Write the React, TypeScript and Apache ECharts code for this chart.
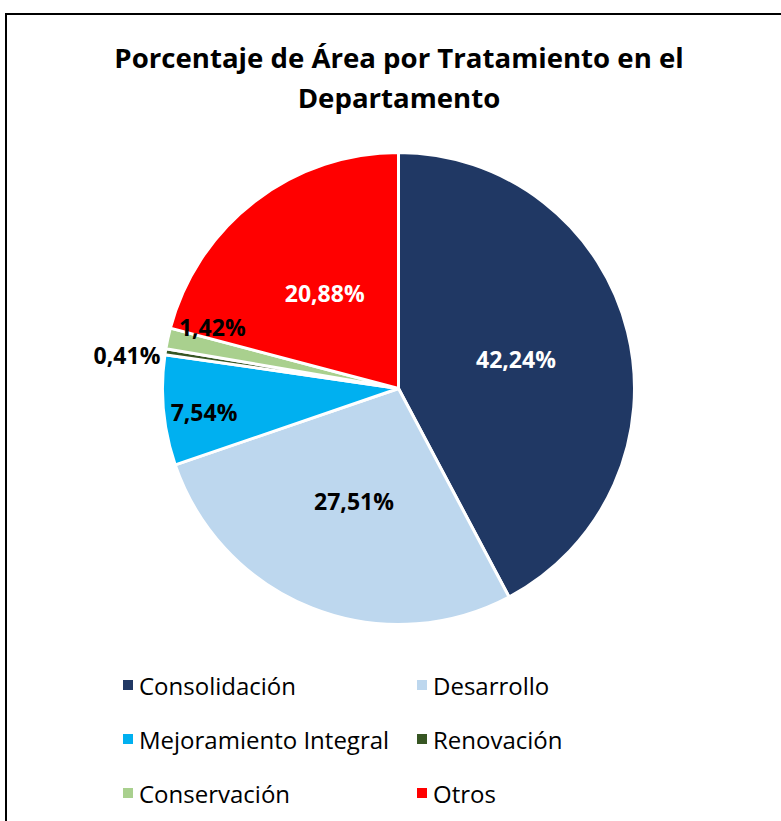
import React, { useEffect, useRef } from "react";
import * as echarts from "echarts";

const categories = [
  "Consolidación",
  "Desarrollo",
  "Mejoramiento Integral",
  "Renovación",
  "Conservación",
  "Otros",
];
const values = [42.24, 27.51, 7.54, 0.41, 1.42, 20.88];
const colors = ["#203864", "#BDD7EE", "#00B0F0", "#375623", "#A9D08E", "#FF0000"];
const labelColors = ["#FFFFFF", "#000000", "#000000", "#000000", "#000000", "#FFFFFF"];
const legendLeftColumn = ["Consolidación", "Mejoramiento Integral", "Conservación"];
const legendRightColumn = ["Desarrollo", "Renovación", "Otros"];
const titleText = "Porcentaje de Área por Tratamiento en el\nDepartamento";

// label nudges (px) for the small slices, as Excel placed them
const labelShift: Record<number, [number, number]> = {
  2: [-74, 12],
  3: [-152, -15],
  4: [-68, -36],
};

const FONT = "'Open Sans', sans-serif";

export default function App() {
  const ref = useRef<HTMLDivElement>(null);
  useEffect(() => {
    if (!ref.current) return;
    const chart = echarts.init(ref.current, undefined, { renderer: "svg" });
    const legendCommon = {
      orient: "vertical" as const,
      icon: "rect",
      itemWidth: 12,
      itemHeight: 12,
      itemGap: 24,
      selectedMode: false,
      textStyle: {
        fontFamily: FONT,
        fontSize: 24,
        color: "#000",
        lineHeight: 30,
      },
    };
    chart.setOption({
      animation: false,
      backgroundColor: "#fff",
      title: {
        text: titleText,
        left: 399,
        textAlign: "center",
        top: 37,
        padding: 0,
        textStyle: {
          fontFamily: FONT,
          fontSize: 27.6,
          fontWeight: "bold",
          color: "#000",
          lineHeight: 40,
        },
      },
      legend: [
        { ...legendCommon, data: legendLeftColumn, left: 116, top: 665 },
        { ...legendCommon, data: legendRightColumn, left: 410, top: 665 },
      ],
      graphic: [
        {
          type: "rect",
          shape: { x: 6, y: 14, width: 900, height: 900 },
          style: { fill: "none", stroke: "#000", lineWidth: 2 },
          silent: true,
          z: 100,
        },
      ],
      series: [
        {
          type: "pie",
          center: [398.5, 388.5],
          radius: [0, 236],
          startAngle: 90,
          clockwise: true,
          avoidLabelOverlap: false,
          itemStyle: { borderColor: "#fff", borderWidth: 3 },
          label: {
            show: true,
            position: "inside",
            fontFamily: FONT,
            fontSize: 23,
            fontWeight: "bold",
            formatter: (p: any) => p.value.toFixed(2).replace(".", ",") + "%",
          },
          labelLine: { show: false },
          labelLayout: (p: any) => {
            const s = labelShift[p.dataIndex];
            return s ? { dx: s[0], dy: s[1] } : {};
          },
          data: categories.map((name, i) => ({
            name,
            value: values[i],
            itemStyle: { color: colors[i] },
            label: { color: labelColors[i] },
          })),
        },
      ],
    });
    return () => chart.dispose();
  }, []);
  return (
    <div
      ref={ref}
      style={{ position: "absolute", left: 0, top: 0, width: 781, height: 821 }}
    />
  );
}
